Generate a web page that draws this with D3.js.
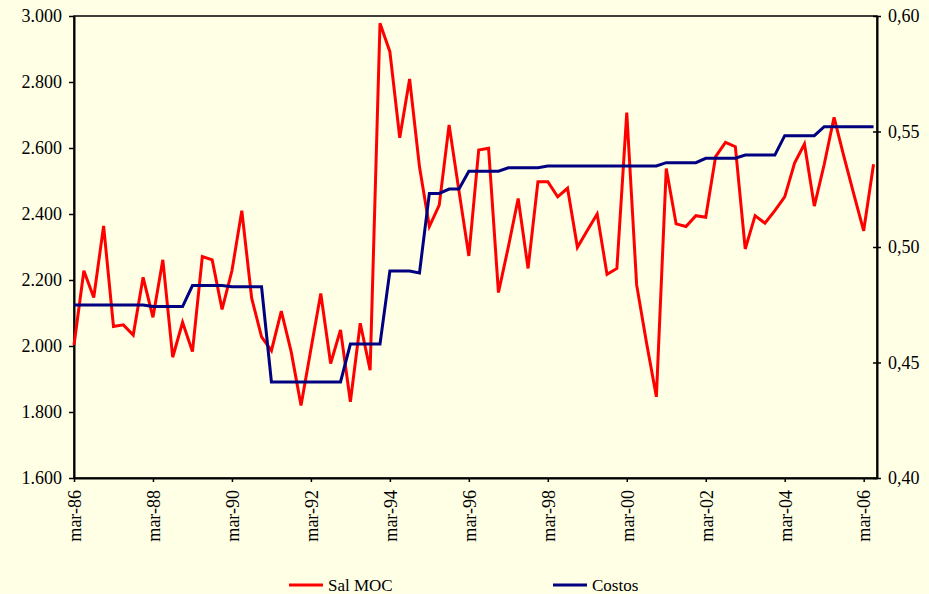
<!DOCTYPE html>
<html><head><meta charset="utf-8">
<script src="https://cdn.jsdelivr.net/npm/d3@7/dist/d3.min.js"></script>
<style>
body{margin:0;background:#FFFFE5;}
svg{display:block;}
</style>
</head><body>
<svg id="chart" width="929" height="594"></svg>
<script>
// Quarterly categories
const categories = [
 "mar-86","jun-86","sep-86","dic-86","mar-87","jun-87","sep-87","dic-87",
 "mar-88","jun-88","sep-88","dic-88","mar-89","jun-89","sep-89","dic-89",
 "mar-90","jun-90","sep-90","dic-90","mar-91","jun-91","sep-91","dic-91",
 "mar-92","jun-92","sep-92","dic-92","mar-93","jun-93","sep-93","dic-93",
 "mar-94","jun-94","sep-94","dic-94","mar-95","jun-95","sep-95","dic-95",
 "mar-96","jun-96","sep-96","dic-96","mar-97","jun-97","sep-97","dic-97",
 "mar-98","jun-98","sep-98","dic-98","mar-99","jun-99","sep-99","dic-99",
 "mar-00","jun-00","sep-00","dic-00","mar-01","jun-01","sep-01","dic-01",
 "mar-02","jun-02","sep-02","dic-02","mar-03","jun-03","sep-03","dic-03",
 "mar-04","jun-04","sep-04","dic-04","mar-05","jun-05","sep-05","dic-05",
 "mar-06","jun-06"
];
// Sal MOC (left axis)
const salMOC = [
 2.003,2.228,2.147,2.364,2.059,2.064,2.033,2.208,
 2.087,2.261,1.966,2.072,1.983,2.271,2.261,2.111,
 2.228,2.410,2.145,2.028,1.986,2.106,1.983,1.820,
 1.990,2.159,1.947,2.049,1.831,2.069,1.927,2.978,
 2.892,2.631,2.809,2.543,2.362,2.427,2.670,2.470,
 2.273,2.594,2.599,2.162,2.300,2.447,2.235,2.498,
 2.498,2.452,2.478,2.299,2.350,2.400,2.217,2.235,
 2.707,2.185,2.010,1.846,2.538,2.370,2.362,2.395,
 2.390,2.574,2.617,2.604,2.294,2.395,2.372,2.410,
 2.452,2.554,2.612,2.424,2.550,2.693,2.574,2.460,
 2.349,2.551
];
// Costos (right axis)
const costos = [
 0.4749,0.4749,0.4749,0.4749,0.4749,0.4749,0.4749,0.4749,
 0.4742,0.4742,0.4742,0.4742,0.4833,0.4833,0.4833,0.4833,
 0.4828,0.4828,0.4828,0.4828,0.4416,0.4416,0.4416,0.4416,
 0.4416,0.4416,0.4416,0.4416,0.4580,0.4580,0.4580,0.4580,
 0.4896,0.4896,0.4896,0.4888,0.5232,0.5232,0.5251,0.5251,
 0.5328,0.5328,0.5328,0.5328,0.5343,0.5343,0.5343,0.5343,
 0.5351,0.5351,0.5351,0.5351,0.5351,0.5351,0.5351,0.5351,
 0.5351,0.5351,0.5351,0.5351,0.5365,0.5365,0.5365,0.5365,
 0.5384,0.5384,0.5384,0.5384,0.5398,0.5398,0.5398,0.5398,
 0.5482,0.5482,0.5482,0.5482,0.5521,0.5521,0.5521,0.5521,
 0.5521,0.5521
];
const tickLabels = ["mar-86","mar-88","mar-90","mar-92","mar-94","mar-96","mar-98","mar-00","mar-02","mar-04","mar-06"];
const leftTicks = [1.6,1.8,2.0,2.2,2.4,2.6,2.8,3.0];
const rightTicks = [0.40,0.45,0.50,0.55,0.60];
const seriesNames = ["Sal MOC","Costos"];
const seriesColors = ["#FF0000","#000080"];

const FONT = "'Liberation Serif', 'Times New Roman', serif";
const svg = d3.select("#chart");
const L = 74, R = 877, T = 16, B = 478;

const x = d3.scaleLinear().domain([0, 81.35]).range([L, R]);
const yL = d3.scaleLinear().domain([1.6, 3.0]).range([B, T]);
const yR = d3.scaleLinear().domain([0.40, 0.60]).range([B, T]);

const fmtLeft = v => d3.format(".3f")(v);
const fmtRight = v => d3.format(".2f")(v).replace(".", ",");

// plot frame
svg.append("rect").attr("x", L).attr("y", T).attr("width", R - L).attr("height", B - T)
  .attr("fill", "#FFFFE5").attr("stroke", "#000").attr("stroke-width", 1.5);

function styleText(sel, size) {
  sel.style("font-family", FONT).style("font-size", size + "px").style("fill", "#000");
}

// left axis
const gL = svg.append("g").attr("transform", `translate(${L},0)`)
  .call(d3.axisLeft(yL).tickValues(leftTicks).tickSize(5).tickSizeOuter(0).tickFormat(fmtLeft).tickPadding(7));
gL.select(".domain").attr("stroke", "#000").attr("stroke-width", 2);
gL.selectAll(".tick line").attr("stroke", "#000").attr("stroke-width", 1.5);
styleText(gL.selectAll("text"), 18);

// right axis
const gR = svg.append("g").attr("transform", `translate(${R},0)`)
  .call(d3.axisRight(yR).tickValues(rightTicks).tickSize(4).tickSizeOuter(0).tickFormat(fmtRight).tickPadding(7));
gR.select(".domain").attr("stroke", "#000").attr("stroke-width", 2);
gR.selectAll(".tick line").attr("x1", -4).attr("x2", 4).attr("stroke", "#000").attr("stroke-width", 1.5);
styleText(gR.selectAll("text"), 18);

// bottom axis
const tickIdx = tickLabels.map(t => categories.indexOf(t));
const gB = svg.append("g").attr("transform", `translate(0,${B})`)
  .call(d3.axisBottom(x).tickValues(tickIdx).tickSize(4).tickSizeOuter(0)
    .tickFormat(i => categories[i]));
gB.select(".domain").attr("stroke", "#000").attr("stroke-width", 2);
gB.selectAll(".tick line").attr("stroke", "#000").attr("stroke-width", 1.5);
styleText(gB.selectAll("text"), 18);
gB.selectAll("text")
  .attr("transform", "rotate(-90)").attr("text-anchor", "end")
  .attr("x", -12).attr("y", 0).attr("dy", "0.35em");

// lines
const lineL = d3.line().x((d, i) => x(i)).y(d => yL(d));
const lineR = d3.line().x((d, i) => x(i)).y(d => yR(d));
svg.append("path").datum(salMOC).attr("d", lineL).attr("fill", "none")
  .attr("stroke", seriesColors[0]).attr("stroke-width", 3);
svg.append("path").datum(costos).attr("d", lineR).attr("fill", "none")
  .attr("stroke", seriesColors[1]).attr("stroke-width", 3);

// legend
const legX = [289, 553];
seriesNames.forEach((n, k) => {
  const g = svg.append("g").attr("transform", `translate(${legX[k]},585)`);
  g.append("line").attr("x1", 0).attr("x2", 34).attr("y1", 0).attr("y2", 0)
    .attr("stroke", seriesColors[k]).attr("stroke-width", 3);
  const t = g.append("text").attr("x", 39).attr("y", 0).attr("dy", "0.35em").text(n);
  styleText(t, 17);
});
</script>
</body></html>
